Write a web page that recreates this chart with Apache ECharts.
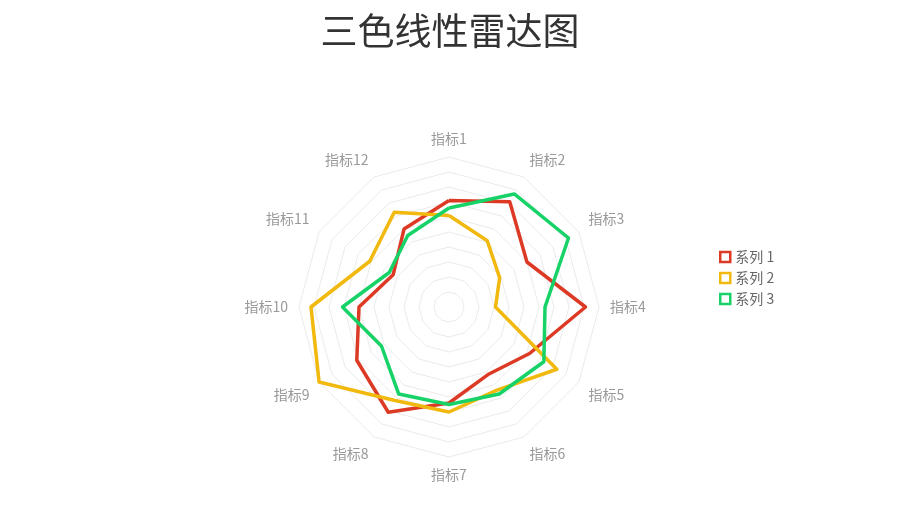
<!DOCTYPE html>
<html>
<head>
<meta charset="utf-8">
<script src="https://cdn.jsdelivr.net/npm/echarts@6/dist/echarts.min.js"></script>
<style>
html, body { margin: 0; padding: 0; background: #fff; }
#main { width: 900px; height: 506px; }
</style>
</head>
<body>
<div id="main"></div>
<script>
// 指标名称（顺时针，从顶部开始）
var indicatorNames = ['指标1', '指标2', '指标3', '指标4', '指标5', '指标6',
	'指标7', '指标8', '指标9', '指标10', '指标11', '指标12'];
var maxValue = 100;

var seriesNames = ['系列 1', '系列 2', '系列 3'];
var seriesColors = ['#dd3a25', '#f1b80d', '#16d267'];

var series1 = [71, 81, 60, 91, 62, 52, 64, 81, 71, 60, 43, 60];
var series2 = [61, 51, 39, 31, 83, 64, 70, 72, 100, 92, 61, 73];
var series3 = [66, 87, 92, 64, 73, 67, 65, 67, 52, 71, 46, 55];

// 上半部分 / 下半部分的斜向标签（需要额外上移/下移）
var upperNames = ['指标2', '指标3', '指标11', '指标12'];
var lowerNames = ['指标5', '指标6', '指标8', '指标9'];

// ECharts 雷达默认逆时针排列，这里把顺序倒过来（第一个保持在顶部）
function clockwise(arr) {
	return [arr[0]].concat(arr.slice(1).reverse());
}

var indicator = clockwise(indicatorNames).map(function (n) {
	return { name: n, max: maxValue };
});

var allData = [series1, series2, series3];
var seriesData = [];
var legendData = [];
for (var i = 0; i < allData.length; i++) {
	seriesData.push({
		name: seriesNames[i],
		value: clockwise(allData[i]),
		lineStyle: { color: seriesColors[i], width: 3.5 },
		itemStyle: { color: seriesColors[i] }
	});
	legendData.push({
		name: seriesNames[i],
		itemStyle: { color: '#fff', borderColor: seriesColors[i], borderWidth: 2.5 }
	});
}

var option = {
	backgroundColor: '#fff',
	title: {
		text: '三色线性雷达图',
		left: 'center',
		top: 7,
		textStyle: { fontSize: 37, fontWeight: 'normal', color: '#333',
			fontFamily: 'Noto Sans CJK SC' }
	},
	legend: {
		orient: 'vertical',
		left: 714,
		top: 245,
		itemWidth: 10,
		itemHeight: 10,
		itemGap: 7,
		itemTextGap: 5,
		icon: 'rect',
		textStyle: { fontSize: 14, color: '#666', fontFamily: 'Noto Sans CJK SC' },
		data: legendData
	},
	radar: {
		center: [449, 307],
		radius: 150,
		startAngle: 90,
		splitNumber: 10,
		shape: 'polygon',
		indicator: indicator,
		axisName: {
			color: '#999',
			fontSize: 14,
			fontFamily: 'Noto Sans CJK SC',
			formatter: function (name) {
				if (upperNames.indexOf(name) >= 0) return '{up|' + name + '}';
				if (lowerNames.indexOf(name) >= 0) return '{down|' + name + '}';
				return name;
			},
			rich: {
				up: { color: '#999', fontSize: 14, fontFamily: 'Noto Sans CJK SC', padding: [0, 0, 15, 0] },
				down: { color: '#999', fontSize: 14, fontFamily: 'Noto Sans CJK SC', padding: [15, 0, 0, 0] }
			}
		},
		nameGap: 11,
		axisLine: { show: false },
		splitLine: { lineStyle: { color: '#ebebeb', width: 1 } },
		splitArea: { show: false }
	},
	series: [{
		type: 'radar',
		symbol: 'none',
		data: seriesData
	}]
};

var myChart = echarts.init(document.getElementById('main'));
myChart.setOption(option);
</script>
</body>
</html>
